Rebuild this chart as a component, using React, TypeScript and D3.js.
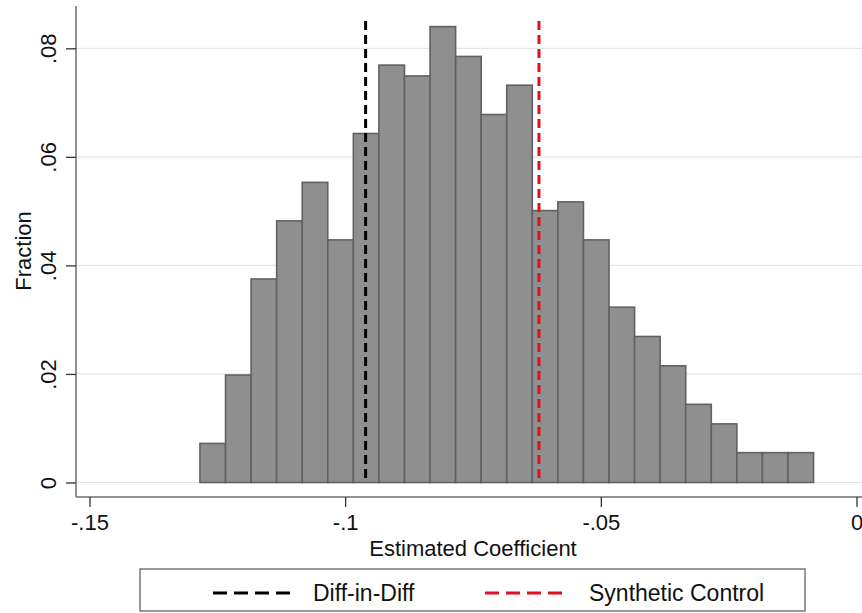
import React, { useEffect, useRef } from 'react';
import * as d3 from 'd3';

// histogram bins (width .005), left edges start at -.1284
const binStart = -0.1284;
const binWidth = 0.005;
const fractions = [
  0.0072, 0.0198, 0.0375, 0.0482, 0.0553, 0.0447, 0.0643, 0.0769,
  0.0749, 0.084, 0.0785, 0.0678, 0.0732, 0.0501, 0.0517, 0.0447,
  0.0323, 0.0269, 0.0215, 0.0144, 0.0108, 0.0055, 0.0055, 0.0055,
];
const xTicks = [-0.15, -0.1, -0.05, 0];
const yTicks = [0, 0.02, 0.04, 0.06, 0.08];
const refLines = [
  { label: 'Diff-in-Diff', value: -0.096, color: '#000000' },
  { label: 'Synthetic Control', value: -0.0621, color: '#e0101e' },
];

const W = 862;
const H = 613;
const FONT = 'Arial, "Liberation Sans", sans-serif';

const fmt = (d: number) => (d === 0 ? '0' : String(d).replace('0.', '.'));

const App = () => {
  const ref = useRef<SVGSVGElement>(null);

  useEffect(() => {
    const svg = d3.select(ref.current);
    svg.selectAll('*').remove();

    const x = d3.scaleLinear().domain([-0.15, 0]).range([89.5, 856.5]);
    const y = d3.scaleLinear().domain([0, 0.08]).range([482.5, 48.3]);
    const plotLeft = 76;
    const plotBottom = 497;
    const plotTop = 6;

    // gridlines
    svg.append('g')
      .selectAll('line')
      .data(yTicks)
      .enter()
      .append('line')
      .attr('x1', plotLeft)
      .attr('x2', W)
      .attr('y1', d => y(d))
      .attr('y2', d => y(d))
      .attr('stroke', '#e6e6e6')
      .attr('stroke-width', 1.2);

    // bars
    svg.append('g')
      .selectAll('rect')
      .data(fractions)
      .enter()
      .append('rect')
      .attr('x', (d, i) => x(binStart + i * binWidth))
      .attr('width', (d, i) => x(binStart + (i + 1) * binWidth) - x(binStart + i * binWidth))
      .attr('y', d => y(d))
      .attr('height', d => y(0) - y(d))
      .attr('fill', '#8f8f8f')
      .attr('stroke', '#616161')
      .attr('stroke-width', 1.6);

    // reference lines
    svg.append('g')
      .selectAll('line')
      .data(refLines)
      .enter()
      .append('line')
      .attr('x1', d => x(d.value))
      .attr('x2', d => x(d.value))
      .attr('y1', 21)
      .attr('y2', y(0))
      .attr('stroke', d => d.color)
      .attr('stroke-width', 3)
      .attr('stroke-dasharray', '9 5');

    // axes
    const yAxis = svg.append('g')
      .attr('transform', `translate(${plotLeft},0)`)
      .call(d3.axisLeft(y).tickValues(yTicks).tickSize(10).tickFormat(d => fmt(+d)));
    yAxis.select('.domain').attr('d', `M0,${plotTop}V${plotBottom}`);
    yAxis.selectAll('.tick text')
      .attr('x', null)
      .attr('y', 0)
      .attr('dy', '0.35em')
      .attr('text-anchor', 'middle')
      .attr('transform', 'translate(-28,0) rotate(-90)');

    const xAxis = svg.append('g')
      .attr('transform', `translate(0,${plotBottom})`)
      .call(d3.axisBottom(x).tickValues(xTicks).tickSize(10).tickPadding(7).tickFormat(d => fmt(+d)));
    xAxis.select('.domain').attr('d', `M${plotLeft},0H${W}`);

    svg.selectAll('.domain').attr('stroke', '#6e6e6e').attr('stroke-width', 1.5);
    svg.selectAll('.tick line').attr('stroke', '#333').attr('stroke-width', 1.3);
    svg.selectAll('.tick text')
      .attr('fill', '#111')
      .style('font-family', FONT)
      .style('font-size', '22px');

    // axis titles
    svg.append('text')
      .attr('x', 473)
      .attr('y', 556)
      .attr('text-anchor', 'middle')
      .style('font-family', FONT)
      .style('font-size', '22px')
      .attr('fill', '#111')
      .text('Estimated Coefficient');

    svg.append('text')
      .attr('transform', 'translate(31,251) rotate(-90)')
      .attr('text-anchor', 'middle')
      .style('font-family', FONT)
      .style('font-size', '22px')
      .attr('fill', '#111')
      .text('Fraction');

    // legend
    const legend = svg.append('g');
    legend.append('rect')
      .attr('x', 140)
      .attr('y', 569)
      .attr('width', 665)
      .attr('height', 42)
      .attr('fill', '#fff')
      .attr('stroke', '#555')
      .attr('stroke-width', 1.2);

    const legendX = [213, 485];
    const textX = [313, 589];
    const items = legend.selectAll('g.item')
      .data(refLines)
      .enter()
      .append('g')
      .attr('class', 'item');
    items.append('line')
      .attr('x1', (d, i) => legendX[i])
      .attr('x2', (d, i) => legendX[i] + 80)
      .attr('y1', 593)
      .attr('y2', 593)
      .attr('stroke', d => d.color)
      .attr('stroke-width', 3)
      .attr('stroke-dasharray', '14 7');
    items.append('text')
      .attr('x', (d, i) => textX[i])
      .attr('y', 593)
      .attr('dy', '0.35em')
      .style('font-family', FONT)
      .style('font-size', '23px')
      .attr('fill', '#111')
      .text(d => d.label);
  }, []);

  return (
    <svg
      ref={ref}
      width={W}
      height={H}
      style={{ position: 'absolute', left: 0, top: 0, background: '#fff' }}
    />
  );
};

export default App;
